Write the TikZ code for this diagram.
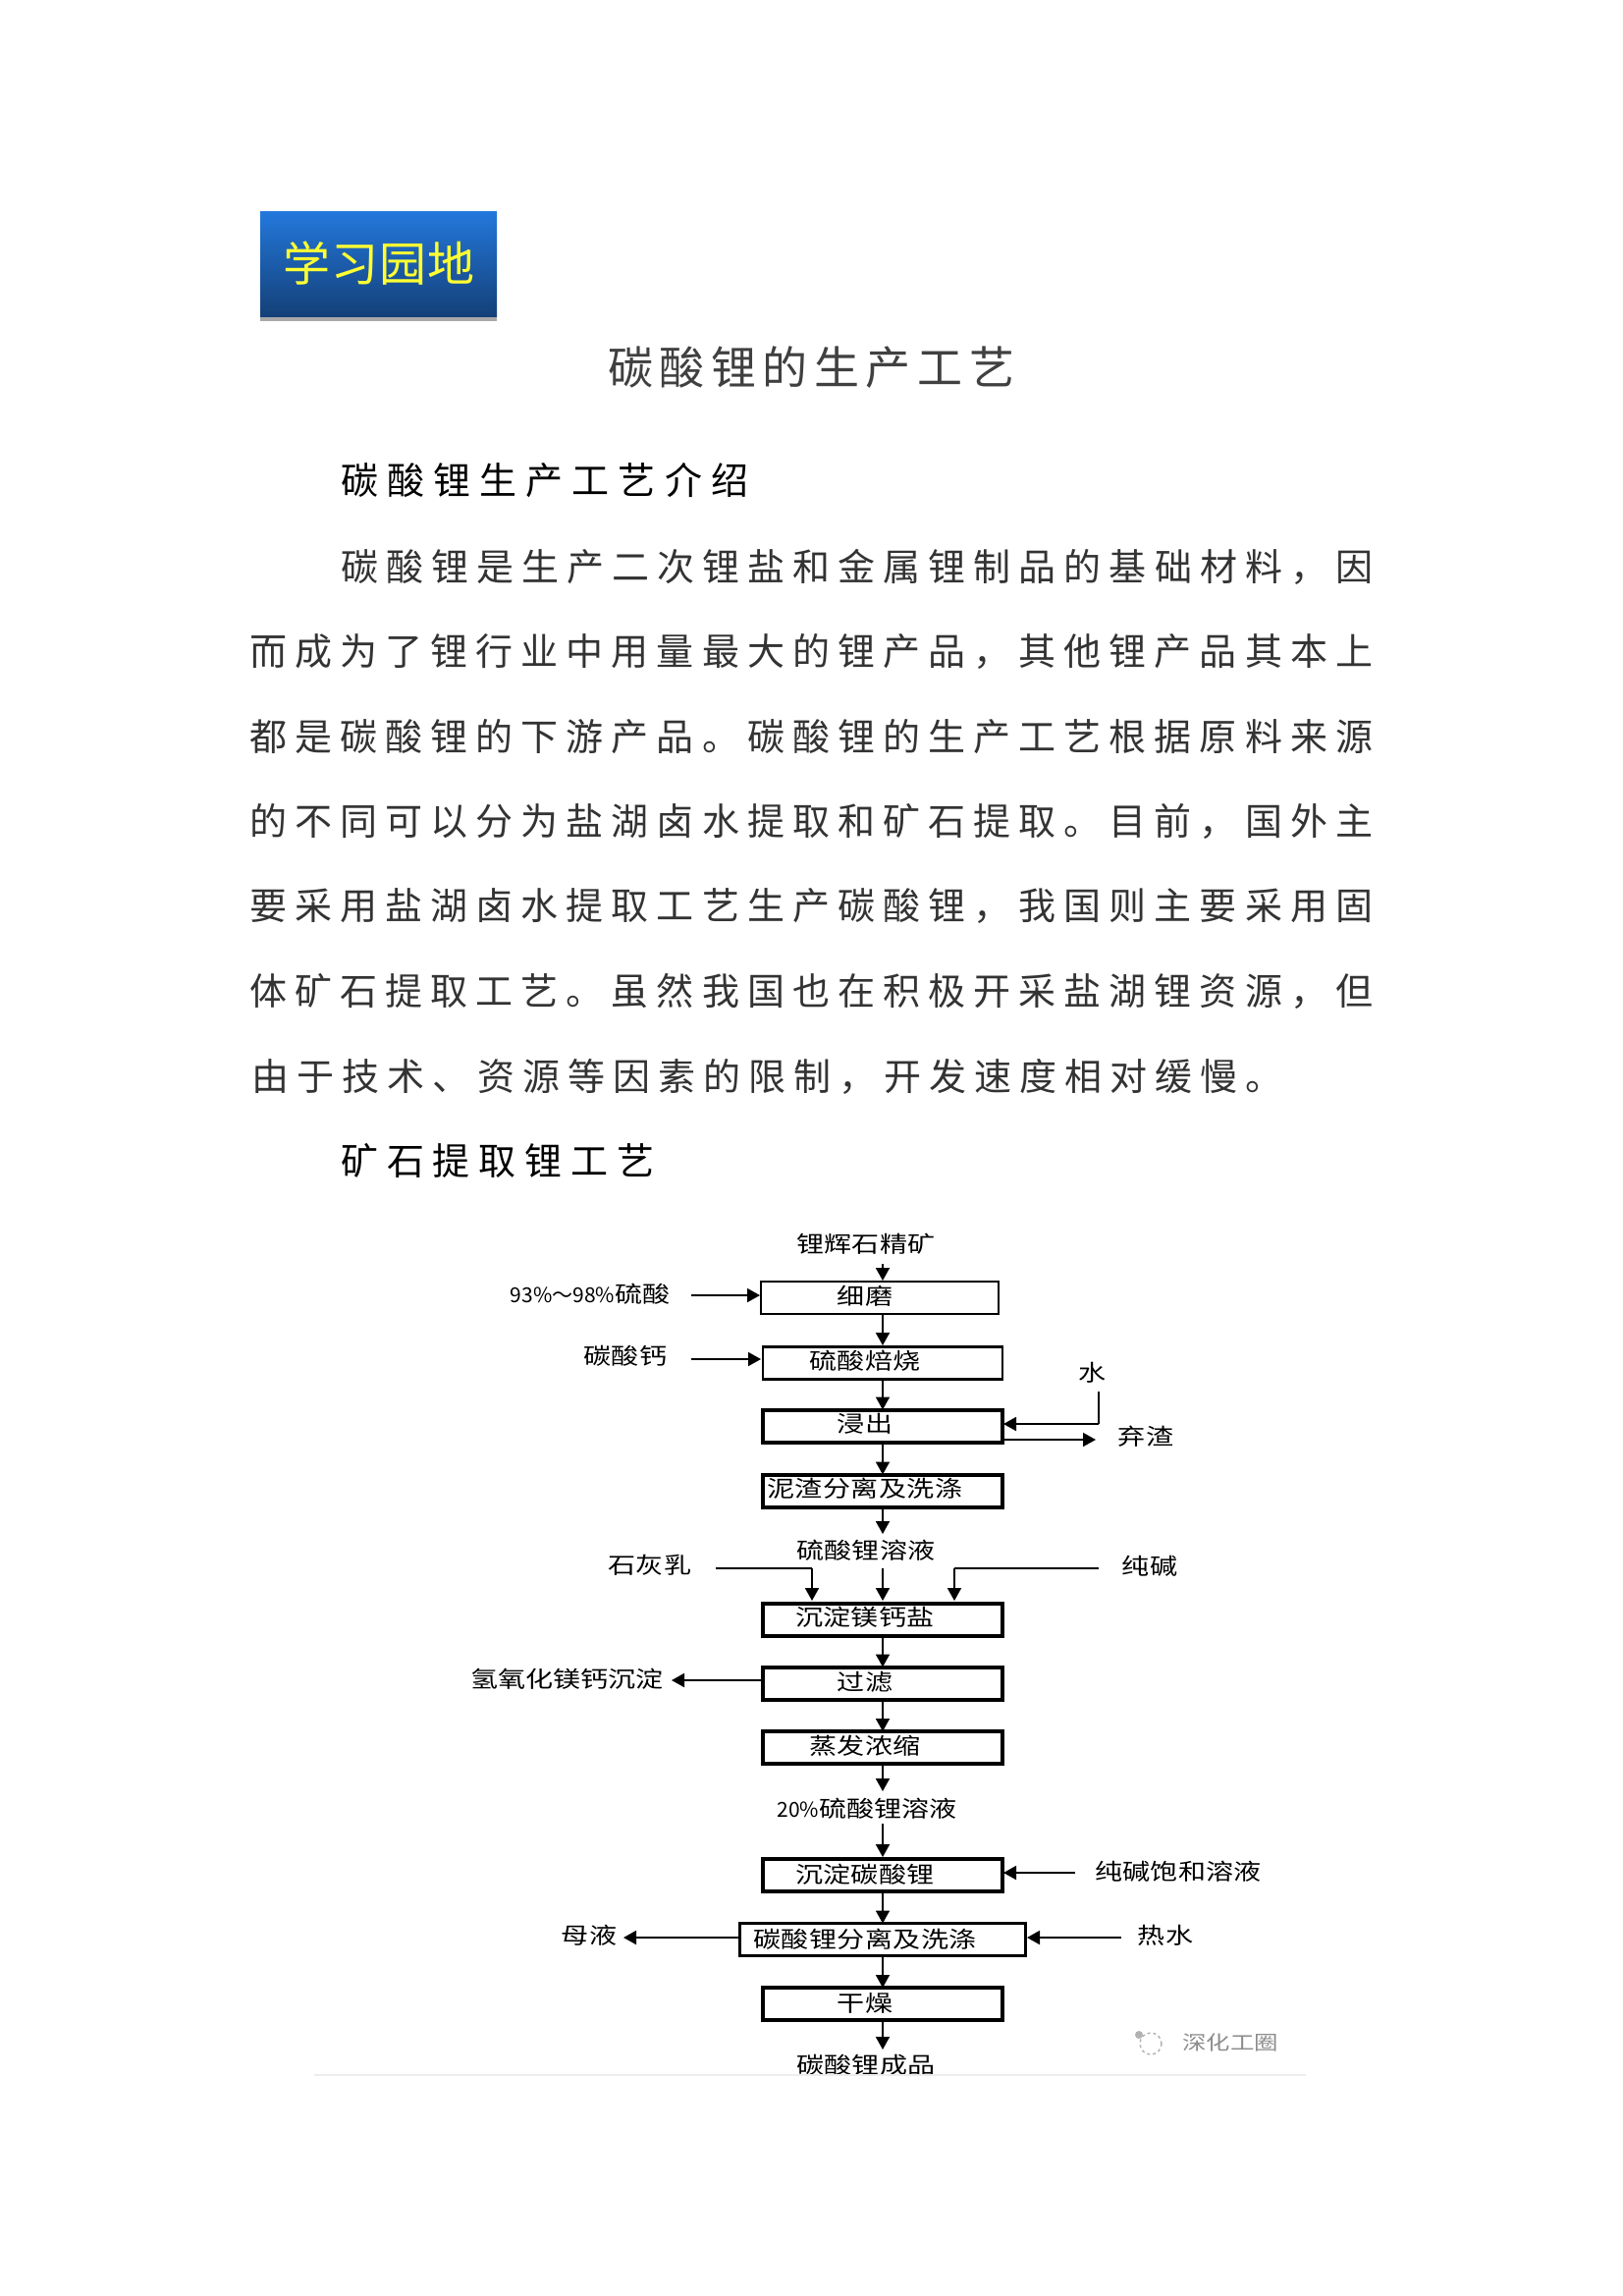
\documentclass[tikz,border=0pt]{standalone}
\usepackage{fontspec}
\setmainfont{Noto Sans CJK SC}
\newfontfamily\flowfont[FakeStretch=1.22]{Noto Sans CJK SC}
\newfontfamily\digitbase{Noto Sans CJK SC}
\newcommand{\digitfont}{\digitbase\fontsize{21}{21}\selectfont}
\usetikzlibrary{arrows.meta,positioning}
\definecolor{bodyink}{gray}{0.2}
\definecolor{titleink}{gray}{0.25}
\definecolor{tagyellow}{RGB}{255,255,51}
\ExplSyntaxOn
\seq_new:N \l_spread_chars_seq
\NewDocumentCommand{\spreadline}{mm}{
  \seq_set_split:Nnn \l_spread_chars_seq {} {#2}
  \hbox~to~#1pt{\seq_use:Nn \l_spread_chars_seq {\hfil}}
}
\ExplSyntaxOff
\tikzset{
  x=1pt,y=-1pt,
  bodyline/.style={anchor=west,inner sep=0pt,text=bodyink,font=\fontsize{38}{38}\selectfont},
  headline/.style={anchor=west,inner sep=0pt,text=black,font=\fontsize{38}{38}\selectfont},
  flowlabel/.style={inner sep=0pt,text=black,font=\flowfont\fontsize{23}{23}\selectfont},
  procthin/.style={draw=black,line width=2.5pt,fill=white,minimum height=33pt,minimum width=#1,inner sep=0pt,outer sep=0pt},
  procthick/.style={draw=black,line width=4pt,fill=white,minimum height=33pt,minimum width=#1,inner sep=0pt,outer sep=0pt},
  flowarrow/.style={draw=black,line width=1.8pt,-{Triangle[length=13pt,width=14pt]}},
  flowline/.style={draw=black,line width=1.4pt},
}
\begin{document}
\begin{tikzpicture}
\useasboundingbox (0,0) rectangle (1653,2338);
% tag
\fill[black!34] (265,320) rectangle (506,327);
\shade[top color={rgb,255:red,35;green,120;blue,220},bottom color={rgb,255:red,20;green,64;blue,120}] (265,215) rectangle (506,322);
\node[inner sep=0pt,text=tagyellow,font=\fontsize{48}{48}\selectfont] (tag) at (386,268) {\spreadline{196}{学习园地}};
% title and text
\node[inner sep=0pt,text=titleink,font=\fontsize{46}{46}\selectfont] (title) at (826,374) {\spreadline{414}{碳酸锂的生产工艺}};
\node[headline] (h1) at (347,489) {\spreadline{415}{碳酸锂生产工艺介绍}};
\node[bodyline] (l1) at (347,577) {\spreadline{1051}{碳酸锂是生产二次锂盐和金属锂制品的基础材料，因}};
\node[bodyline] (l2) at (254,663) {\spreadline{1144}{而成为了锂行业中用量最大的锂产品，其他锂产品其本上}};
\node[bodyline] (l3) at (254,750) {\spreadline{1144}{都是碳酸锂的下游产品。碳酸锂的生产工艺根据原料来源}};
\node[bodyline] (l4) at (254,836) {\spreadline{1144}{的不同可以分为盐湖卤水提取和矿石提取。目前，国外主}};
\node[bodyline] (l5) at (254,923) {\spreadline{1144}{要采用盐湖卤水提取工艺生产碳酸锂，我国则主要采用固}};
\node[bodyline] (l6) at (254,1009) {\spreadline{1144}{体矿石提取工艺。虽然我国也在积极开采盐湖锂资源，但}};
\node[bodyline] (l7) at (256,1096) {\spreadline{1050}{由于技术、资源等因素的限制，开发速度相对缓慢。}};
\node[headline] (h2) at (347,1182) {\spreadline{319}{矿石提取锂工艺}};
% process boxes
\node[procthin=242pt]  (b1) at (896,1321.5) {};
\node[procthin=244pt]  (b2) at (899,1388) {};
\node[procthick=244pt] (b3) at (899,1452) {};
\node[procthick=244pt] (b4) at (899,1518) {};
\node[procthick=244pt] (b5) at (899,1649) {};
\node[procthick=244pt] (b6) at (899,1714) {};
\node[procthick=244pt] (b7) at (899,1779.5) {};
\node[procthick=244pt] (b8) at (899,1909) {};
\node[procthin=291pt]  (b9) at (899,1975) {};
\node[procthick=244pt] (b10) at (899,2040.5) {};
% box texts
\node[flowlabel] (t1) at (881,1320) {细磨};
\node[flowlabel] (t2) at (881,1386) {硫酸焙烧};
\node[flowlabel] (t3) at (881,1450) {浸出};
\node[flowlabel] (t4) at (881,1516) {\spreadline{199}{泥渣分离及洗涤}};
\node[flowlabel] (t5) at (881,1647) {沉淀镁钙盐};
\node[flowlabel] (t6) at (881,1713) {过滤};
\node[flowlabel] (t7) at (881,1778) {蒸发浓缩};
\node[flowlabel] (t8) at (881,1909) {沉淀碳酸锂};
\node[flowlabel] (t9) at (881,1975) {\spreadline{228}{碳酸锂分离及洗涤}};
\node[flowlabel] (t10) at (881,2040) {干燥};
% outside labels
\node[flowlabel] (in0) at (882,1267) {锂辉石精矿};
\node[flowlabel] (acid) at (601,1318) {{\digitfont 93\%～98\%}硫酸};
\node[flowlabel] (caco) at (637,1381) {碳酸钙};
\node[flowlabel] (water) at (1113,1398) {水};
\node[flowlabel] (slag) at (1167,1463) {弃渣};
\node[flowlabel] (liso) at (882,1579) {硫酸锂溶液};
\node[flowlabel] (lime) at (662,1594) {石灰乳};
\node[flowlabel] (soda) at (1171,1595) {纯碱};
\node[flowlabel] (mgca) at (577,1710) {\spreadline{196}{氢氧化镁钙沉淀}};
\node[flowlabel] (li20) at (883,1842) {{\digitfont 20\%}硫酸锂溶液};
\node[flowlabel] (sat) at (1200,1906) {\spreadline{169}{纯碱饱和溶液}};
\node[flowlabel] (mother) at (600,1971) {母液};
\node[flowlabel] (hot) at (1187,1971) {热水};
\node[flowlabel] (prod) at (882,2103) {碳酸锂成品};
% free ends
\coordinate (c0) at (899,1287);
\coordinate (c0e) at (899,1304);
\coordinate (c1s) at (704,1319);
\coordinate (c1e) at (774,1319);
\coordinate (c2s) at (704,1384);
\coordinate (c2e) at (775,1384);
\coordinate (w1) at (1119,1417);
\coordinate (w2) at (1119,1450);
\coordinate (w3) at (1022,1450);
\coordinate (s1) at (1022,1466);
\coordinate (s2) at (1116,1466);
\coordinate (d1) at (899,1562);
\coordinate (e1) at (899,1597);
\coordinate (e2) at (899,1630);
\coordinate (f1) at (729,1597);
\coordinate (f2) at (827,1597);
\coordinate (f3) at (827,1630);
\coordinate (g1) at (1119,1597);
\coordinate (g2) at (972,1597);
\coordinate (g3) at (972,1630);
\coordinate (h1s) at (775,1711);
\coordinate (h1e) at (684,1711);
\coordinate (k1) at (899,1824);
\coordinate (k2) at (899,1857);
\coordinate (k3) at (899,1891);
\coordinate (m1) at (1095,1907);
\coordinate (m2) at (1022,1907);
\coordinate (n1) at (754,1973);
\coordinate (n2) at (635,1973);
\coordinate (p1) at (1142,1973);
\coordinate (p2) at (1046,1973);
\coordinate (q1) at (899,2087);
\coordinate (b1s) at (899,1338);
\coordinate (b2n) at (899,1370);
% connectors
\draw[flowarrow] (c0) -- (c0e);
\draw[flowarrow] (c1s) -- (c1e);
\draw[flowarrow] (c2s) -- (c2e);
\draw[flowarrow] (b1s) -- (b2n);
\draw[flowarrow] (b2) -- (b3);
\draw[flowline] (w1) -- (w2);
\draw[flowarrow] (w2) -- (w3);
\draw[flowarrow] (s1) -- (s2);
\draw[flowarrow] (b3) -- (b4);
\draw[flowarrow] (b4) -- (d1);
\draw[flowarrow] (e1) -- (e2);
\draw[flowline] (f1) -- (f2);
\draw[flowarrow] (f2) -- (f3);
\draw[flowline] (g1) -- (g2);
\draw[flowarrow] (g2) -- (g3);
\draw[flowarrow] (b5) -- (b6);
\draw[flowarrow] (h1s) -- (h1e);
\draw[flowarrow] (b6) -- (b7);
\draw[flowarrow] (b7) -- (k1);
\draw[flowarrow] (k2) -- (k3);
\draw[flowarrow] (m1) -- (m2);
\draw[flowarrow] (b8) -- (b9);
\draw[flowarrow] (n1) -- (n2);
\draw[flowarrow] (p1) -- (p2);
\draw[flowarrow] (b9) -- (b10);
\draw[flowarrow] (b10) -- (q1);
% watermark
\draw[black!30,line width=1.5pt,dashed] (1172,2081) circle (11);
\fill[black!30] (1160,2072) circle (4);
\node[inner sep=0pt,text=black!45,font=\flowfont\fontsize{20}{20}\selectfont] (mark) at (1253,2080) {深化工圈};
% picture edge
\fill[black!7] (320,2112) rectangle (1330,2114);
\end{tikzpicture}
\end{document}
